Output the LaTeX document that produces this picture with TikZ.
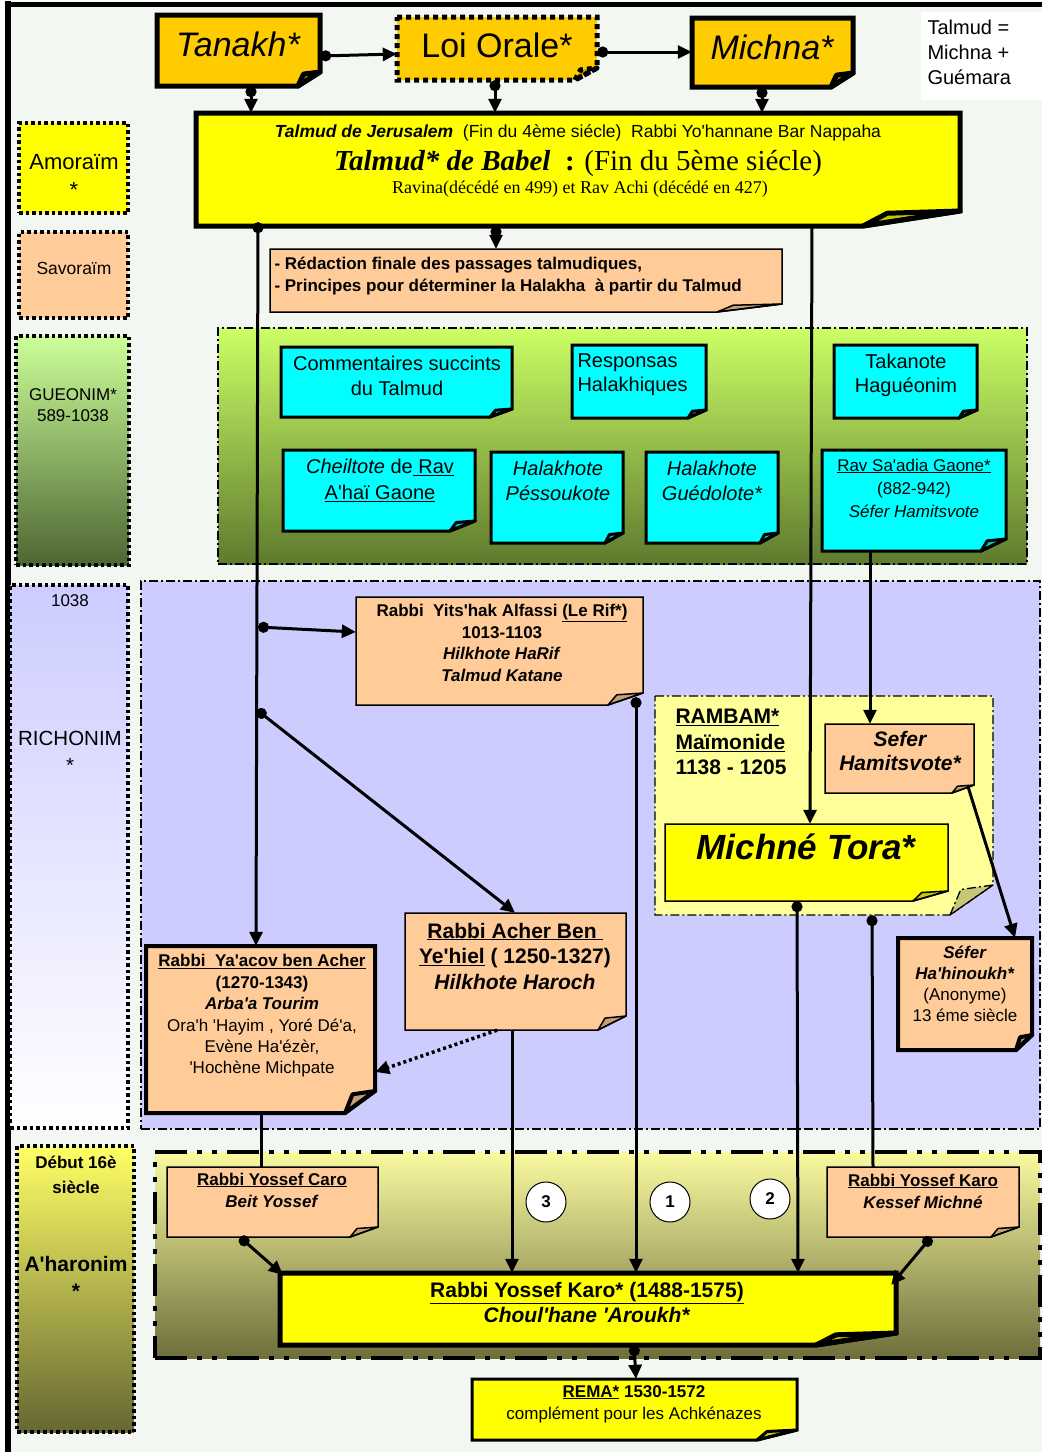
\documentclass[tikz,border=0pt]{standalone}
\usepackage{fontspec}
\setmainfont{Liberation Sans}[Ligatures=TeXOff]
\newfontfamily\tms{Liberation Serif}[Ligatures=TeXOff]
\usetikzlibrary{arrows.meta,calc}
\definecolor{bgc}{RGB}{242,247,242}
\definecolor{orangeb}{HTML}{FFCC00}
\definecolor{yel}{HTML}{FFFF00}
\definecolor{peach}{HTML}{FFCC99}
\definecolor{cyanb}{HTML}{00FFFF}
\definecolor{lav}{HTML}{CCCCFF}
\definecolor{lyel}{HTML}{FFFF99}
\newcommand\fsz[2]{\fontsize{#1}{#2}\selectfont}
\newcommand\foldbox[8]{%
  \path[#8] ({#2},{#3}) -- ({#4},{#3}) -- ({#4},{#5-#7}) -- ({#4-#6},{#5}) -- ({#2},{#5}) -- cycle;
  \path[#8,fill=black,fill opacity=0.22,line join=round] ({#4-#6},{#5}) -- ({#4-0.75*#6},{#5-0.85*#7}) -- ({#4},{#5-#7}) -- cycle;
  \node[inner sep=0pt,minimum width={#4-#2},minimum height={#5-#3}] (#1) at ({(#2+#4)/2},{(#3+#5)/2}) {};
}
\tikzset{
  thickb/.style={draw,line width=5pt,line join=miter},
  medb/.style={draw,line width=3pt},
  thinb/.style={draw,line width=1.5pt},
  labbox/.style={draw,line width=3.5pt,dash pattern=on 3.5pt off 3pt,inner sep=0pt},
  regthin/.style={draw,line width=1.3pt,dash pattern=on 9pt off 3pt on 2pt off 3pt,inner sep=0pt},
  regthick/.style={draw,line width=4pt,dash pattern=on 32pt off 10pt on 5pt off 10pt on 5pt off 10pt,inner sep=0pt},
  dotarrow/.style={line width=3pt,arrows={Circle[length=11pt]-Triangle[length=14pt,width=13pt]}},
  arrowonly/.style={line width=3pt,arrows={-Triangle[length=14pt,width=13pt]}},
  dotonly/.style={line width=3pt,arrows={Circle[length=11pt]-}},
  plainline/.style={line width=3pt},
  circ/.style={circle,draw,line width=1pt,fill=white,minimum size=40pt,inner sep=0pt,font=\fsz{17}{20}\bfseries},
}
\begin{document}
\begin{tikzpicture}[x=1pt,y=-1pt]
\useasboundingbox (0,0) rectangle (1042,1452);
\fill[white] (0,0) rectangle (1042,1452);
\fill[bgc] (5,2) rectangle (1042,1452);
\draw[line width=5pt] (5,4) -- (1042,4);
\draw[line width=6pt] (8,1) -- (8,1452);
% Talmud definition
\node[fill=white,minimum width=121pt,minimum height=88pt,inner sep=0pt] (tdefbox) at (981.5,56) {};
\node[font=\fsz{20}{25},align=left,anchor=west] (tdef) at (924,52) {Talmud =\\Michna +\\Guémara};
% left labels
\node[labbox,fill=yel,minimum width=109pt,minimum height=90pt] (amor) at (73.5,168) {};
\node[labbox,fill=peach,minimum width=109pt,minimum height=86pt] (savor) at (73.5,275) {};
\node[labbox,top color={rgb,255:red,204;green,255;blue,153},bottom color={rgb,255:red,77;green,102;blue,51},minimum width=113pt,minimum height=229pt] (gueo) at (72.5,450.5) {};
\node[labbox,top color=lav,bottom color=white,minimum width=118pt,minimum height=543pt] (rich) at (69,856.5) {};
\node[labbox,top color={rgb,255:red,255;green,255;blue,102},bottom color={rgb,255:red,102;green,102;blue,51},minimum width=117pt,minimum height=286pt] (ahar) at (75.5,1289) {};
\node[font=\fsz{22}{28},align=center] (amorT) at (74,176) {Amoraïm\\*};
\node[font=\fsz{17.5}{21}] (savorT) at (74,268) {Savoraïm};
\node[font=\fsz{17}{21},align=center] (gueoT) at (73,405) {GUEONIM*\\589-1038};
\node[font=\fsz{17}{21}] (r1038) at (70,601) {1038};
\node[font=\fsz{20.5}{27},align=center] (richT) at (70,752) {RICHONIM\\*};
\node[font=\fsz{17}{25}\bfseries,align=center] (debT) at (76,1175) {Début 16è\\siècle};
\node[font=\fsz{21}{27}\bfseries,align=center] (ahT) at (76,1277) {A'haronim\\*};
% regions
\node[regthin,top color={rgb,255:red,204;green,255;blue,102},bottom color={rgb,255:red,94;green,122;blue,46},minimum width=809pt,minimum height=236pt] (gueoreg) at (622.5,446) {};
\node[regthin,fill=lav,minimum width=899pt,minimum height=548pt] (richreg) at (590.5,855) {};
\node[regthick,top color={rgb,255:red,250;green,250;blue,160},bottom color={rgb,255:red,110;green,110;blue,60},minimum width=885pt,minimum height=206pt] (aharreg) at (597.5,1255) {};
\foldbox{ramreg}{655}{696}{993}{915}{43}{30}{regthin,fill=lyel}
% top boxes
\foldbox{tanakh}{157}{15}{320}{86}{22}{14}{thickb,fill=orangeb}
\foldbox{loi}{397}{17}{597}{80}{22}{12}{draw,line width=5pt,dash pattern=on 5pt off 4pt,fill=orangeb}
\foldbox{michna}{692}{18}{853}{87}{22}{14}{thickb,fill=orangeb}
\foldbox{talmud}{196}{113}{960}{226}{97}{15}{thickb,fill=yel}
\foldbox{savbox}{270}{249}{782}{312}{65}{8}{thinb,fill=peach}
% gueonim boxes
\foldbox{comm}{281}{347}{512}{417}{22}{8}{medb,fill=cyanb}
\foldbox{resp}{572}{345}{706}{418}{18}{8}{medb,fill=cyanb}
\foldbox{taka}{834}{345}{977}{418}{18}{8}{medb,fill=cyanb}
\foldbox{cheil}{283}{450}{475}{531}{25}{10}{medb,fill=cyanb}
\foldbox{pess}{491}{452}{623}{543}{18}{10}{medb,fill=cyanb}
\foldbox{gued}{646}{452}{778}{543}{18}{10}{medb,fill=cyanb}
\foldbox{saad}{822}{450}{1006}{551}{25}{12}{medb,fill=cyanb}
% richonim boxes
\foldbox{rif}{356}{597}{643}{705}{35}{12}{thinb,fill=peach}
\foldbox{sefer}{825}{724}{974}{793}{22}{8}{thinb,fill=peach}
\foldbox{mt}{665}{824}{948}{901}{35}{10}{thinb,fill=yel}
\foldbox{yaacov}{146}{946}{375}{1113}{30}{22}{draw,line width=4pt,fill=peach}
\foldbox{acher}{405}{913}{626}{1030}{28}{14}{thinb,fill=peach}
\foldbox{hinoukh}{898}{938}{1032}{1050}{16}{15}{draw,line width=4pt,fill=peach}
% aharonim boxes
\foldbox{beit}{167}{1167}{378}{1237}{28}{10}{thinb,fill=peach}
\foldbox{kessef}{827}{1167}{1019}{1237}{28}{10}{thinb,fill=peach}
\foldbox{choul}{280}{1273}{896}{1345}{80}{12}{thickb,fill=yel}
\foldbox{rema}{472}{1379}{797}{1440}{40}{10}{medb,fill=yel}
% texts
\node[font=\fsz{34}{40}\itshape] (tanakhT) at (238,44) {Tanakh*};
\node[font=\fsz{34}{40}] (loiT) at (497,45) {Loi Orale*};
\node[font=\fsz{34}{40}\itshape] (michnaT) at (772,47) {Michna*};
\node[font=\fsz{17.5}{21}] (tl1) at (578,133) {\textbf{\textit{Talmud de Jerusalem}}\ \ (Fin du 4ème siécle)\ \ Rabbi Yo'hannane Bar Nappaha};
\node[font=\tms\fsz{29}{34}] (tl2) at (578,163) {\textbf{\textit{Talmud* de Babel}}\ \ \textbf{:} (Fin du 5ème siécle)};
\node[font=\tms\fsz{18}{21}] (tl3) at (580,189) {Ravina(décédé en 499) et Rav Achi (décédé en 427)};
\node[font=\fsz{17}{22}\bfseries,align=left,anchor=west] (savT) at (271,276) {- Rédaction finale des passages talmudiques,\\- Principes pour déterminer la Halakha\ \ à partir du Talmud};
\node[font=\fsz{20}{25},align=center] (commT) at (397,376) {Commentaires succints\\du Talmud};
\node[font=\fsz{20}{24},align=left,anchor=west] (respT) at (574,375) {Responsas\\Halakhiques};
\node[font=\fsz{20}{24},align=center] (takaT) at (906,375) {Takanote\\Haguéonim};
\node[font=\fsz{20}{26},align=center] (cheilT) at (380,480) {\textit{Cheiltote} de\underline{ Rav}\\\underline{A'haï Gaone}};
\node[font=\fsz{20}{25}\itshape,align=center] (pessT) at (558,481) {Halakhote\\Péssoukote};
\node[font=\fsz{20}{25}\itshape,align=center] (guedT) at (712,481) {Halakhote\\Guédolote*};
\node[font=\fsz{17}{23},align=center] (saadT) at (914,488) {\underline{Rav Sa'adia Gaone*}\\(882-942)\\\textit{Séfer Hamitsvote}};
\node[font=\fsz{17}{21.7}\bfseries,align=center] (rifT) at (502,643) {Rabbi\ \ Yits'hak Alfassi \underline{(Le Rif*)}\\1013-1103\\\textit{Hilkhote HaRif}\\\textit{Talmud Katane}};
\node[font=\fsz{21}{25.5}\bfseries,align=left,anchor=west] (ramT) at (672,742) {\underline{RAMBAM*}\\\underline{Maïmonide}\\1138 - 1205};
\node[font=\fsz{21}{24}\bfseries\itshape,align=center] (seferT) at (900,751) {Sefer\\Hamitsvote*};
\node[font=\fsz{35}{40}\bfseries\itshape] (mtT) at (806,847) {Michné Tora*};
\node[font=\fsz{17}{21.4},align=center] (yaT) at (262,1016) {\textbf{\underline{Rabbi\ \ Ya'acov ben Acher}}\\\textbf{(1270-1343)}\\\textbf{\textit{Arba'a Tourim}}\\Ora'h 'Hayim , Yoré Dé'a,\\Evène Ha'ézèr,\\'Hochène Michpate};
\node[font=\fsz{21}{25.5}\bfseries,align=center] (acherT) at (515,956) {\underline{Rabbi Acher Ben\ }\\\underline{Ye'hiel} ( 1250-1327)\\\textit{Hilkhote Haroch}};
\node[font=\fsz{17}{21},align=center] (hinT) at (965,984) {\textbf{\textit{Séfer}}\\\textbf{\textit{Ha'hinoukh*}}\\(Anonyme)\\13 éme siècle};
\node[font=\fsz{17}{22}\bfseries,align=center] (beitT) at (272,1190) {\underline{Rabbi Yossef Caro}\\\textit{Beit Yossef}};
\node[font=\fsz{17}{22}\bfseries,align=center] (kessT) at (923,1191) {\underline{Rabbi Yossef Karo}\\\textit{Kessef Michné}};
\node[font=\fsz{21}{25}\bfseries,align=center] (choulT) at (587,1302) {\underline{Rabbi Yossef Karo* (1488-1575)}\\\textit{Choul'hane 'Aroukh*}};
\node[font=\fsz{17}{22},align=center] (remaT) at (634,1404) {\textbf{\underline{REMA*} 1530-1572}\\complément pour les Achkénazes};
\node[circ] (c3) at (546,1202) {3};
\node[circ] (c1) at (670,1202) {1};
\node[circ] (c2) at (770,1199) {2};
% connectors
\coordinate (j1) at (258,627);
\coordinate (j2) at (257,710);
\draw[dotarrow] (tanakh.east |- 0,56) -- (loi.west |- 0,54);
\draw[dotarrow] (loi.east |- 0,52) -- (michna.west |- 0,52);
\draw[dotarrow] (251,0 |- tanakh.south) -- (251,0 |- talmud.north);
\draw[dotarrow] (495,0 |- loi.south) -- (495,0 |- talmud.north);
\draw[dotarrow] (762,0 |- michna.south) -- (762,0 |- talmud.north);
\draw[dotarrow] (496,0 |- talmud.south) -- (496,0 |- savbox.north);
\draw[dotarrow] ([yshift=4pt]258,0 |- talmud.south) -- (256,0 |- yaacov.north);
\draw[dotarrow] (j1) -- (rif.west |- 0,632);
\draw[dotarrow] (j2) -- (515,0 |- acher.north);
\draw[arrowonly] (812,0 |- talmud.south) -- (810,0 |- mt.north);
\draw[arrowonly] (870,0 |- saad.south) -- (870,0 |- sefer.north);
\draw[arrowonly] ([xshift=-6pt,yshift=6pt]sefer.south east) -- (1015,0 |- hinoukh.north);
\draw[dotarrow] ([yshift=8pt]636,0 |- rif.south) -- (636,0 |- choul.north);
\draw[dotarrow] (797,0 |- mt.south) -- (798,0 |- choul.north);
\draw[dotonly] (872,0 |- ramreg.south) -- (873,0 |- kessef.north);
\draw[arrowonly] (512,0 |- acher.south) -- (512,0 |- choul.north);
\draw[line width=3.5pt,dash pattern=on 3pt off 3pt,arrows={-Triangle[length=14pt,width=13pt]}] (497,0 |- acher.south) -- (yaacov.east |- 0,1072);
\draw[plainline] (261,0 |- yaacov.south) -- (261,0 |- beit.north);
\draw[dotarrow] (240,0 |- beit.south) -- ([xshift=3pt,yshift=-2pt]choul.north west);
\draw[dotarrow] (931,0 |- kessef.south) -- ([xshift=-5pt,yshift=-12pt]choul.north east);
\draw[dotarrow] (634,0 |- choul.south) -- (636,0 |- rema.north);
\end{tikzpicture}
\end{document}
